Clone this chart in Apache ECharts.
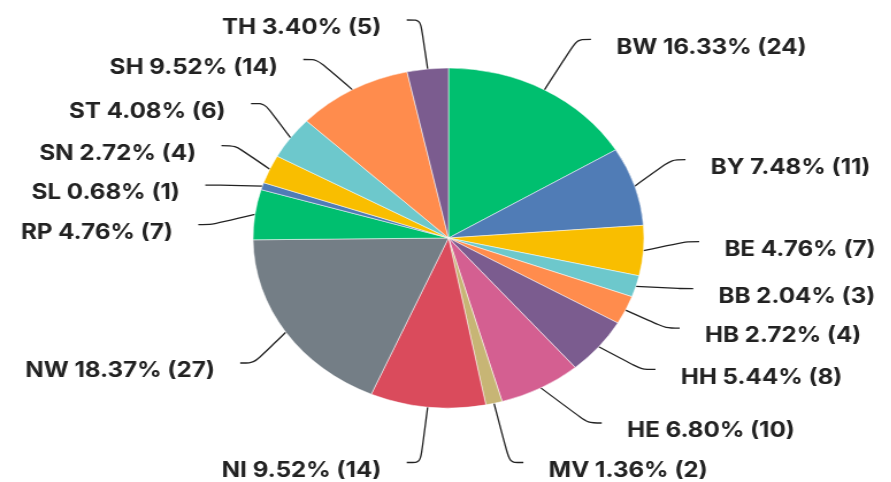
<!DOCTYPE html>
<html><head><meta charset="utf-8">
<script src="https://cdn.jsdelivr.net/npm/echarts@6/dist/echarts.min.js"></script>
<style>
html,body{margin:0;padding:0;background:#fff;overflow:hidden;width:891px;height:482px;}
#c{width:775px;height:482px;transform:scaleX(1.15);transform-origin:0 0;}
</style></head>
<body><div id="c"></div>
<script>
const categories = ['BW','BY','BE','BB','HB','HH','HE','MV','NI','NW','RP','SL','SN','ST','SH','TH'];
const counts = [24,11,7,3,4,8,10,2,14,27,7,1,4,6,14,5];
const palette = ['#00bf6f','#507cb6','#f9be00','#6dc8cc','#ff8c4d','#7b5c8f','#d45f91','#c7b575','#da4b5c','#747e86'];

const total = counts.reduce((a,b)=>a+b,0);
const chart = echarts.init(document.getElementById('c'));
chart.setOption({
  animation:false,
  color: palette,
  series:[{
    type:'pie',
    center:[390,238],
    radius:170,
    startAngle:90,
    clockwise:true,
    data: categories.map((n,i)=>({name:n,value:counts[i]})),
    itemStyle:{borderColor:'#fff',borderWidth:0.5},
    label:{
      formatter: p => '{s| }\n{t|' + p.name + ' ' + (p.value/total*100).toFixed(2) + '% (' + p.value + ')}',
      distanceToLabelLine:22,
      rich:{
        s:{fontSize:8,lineHeight:16},
        t:{
          fontFamily:'Inter',
          fontWeight:'bold',
          fontSize:21,
          lineHeight:30,
          color:'#222'
        }
      }
    },
    labelLine:{
      length:58,
      length2:12,
      smooth:0.3,
      lineStyle:{color:'#222',width:1.3}
    }
  }]
});
</script></body></html>
